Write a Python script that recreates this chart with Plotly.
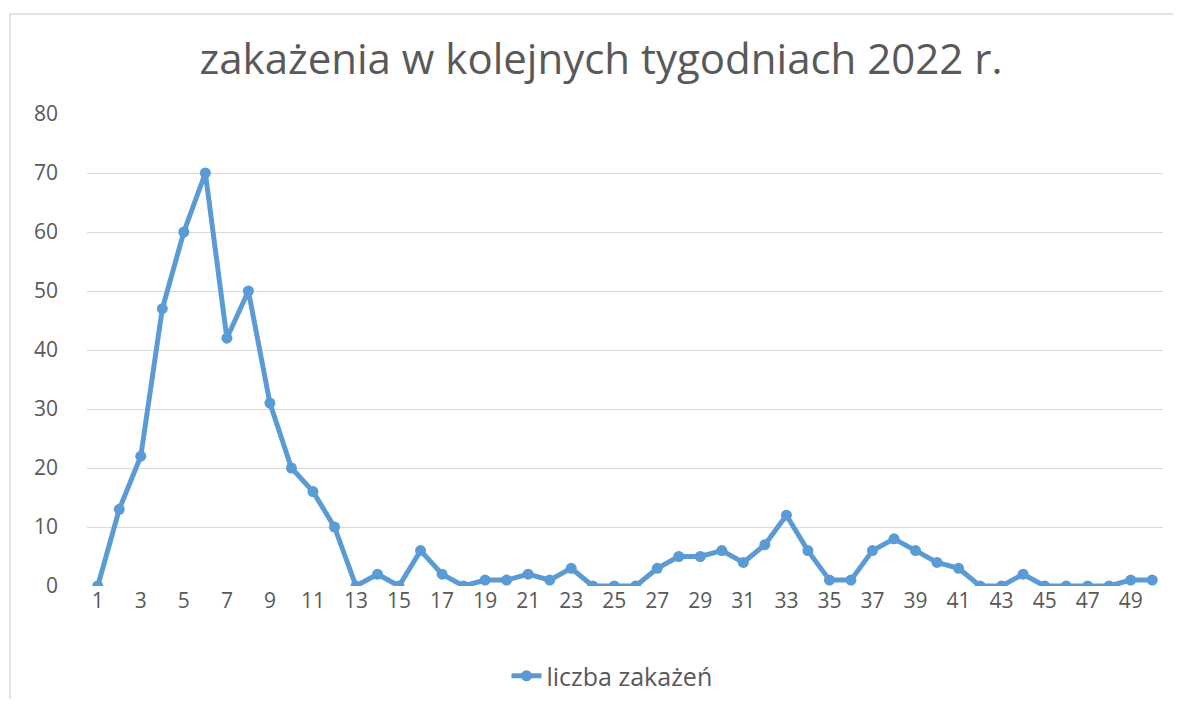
import plotly.graph_objects as go

weeks = list(range(1, 51))
infections = [0, 13, 22, 47, 60, 70, 42, 50, 31, 20,
              16, 10, 0, 2, 0, 6, 2, 0, 1, 1,
              2, 1, 3, 0, 0, 0, 3, 5, 5, 6,
              4, 7, 12, 6, 1, 1, 6, 8, 6, 4,
              3, 0, 0, 2, 0, 0, 0, 0, 1, 1]
x_ticks = list(range(1, 50, 2))
y_ticks = list(range(0, 81, 10))

title = "zakażenia w kolejnych tygodniach 2022 r."
series_name = "liczba zakażeń"

# page is 1181x707; the html body adds an 8px margin around the figure
OFF = 8
W, H = 1181 - 2 * OFF, 707 - 2 * OFF
# plot area in page pixels: x 87..1163, y 114..586
L, T = 87 - OFF, 114 - OFF
R, B = W - (1163 - OFF), H - (586 - OFF)
pw, ph = W - L - R, H - T - B


def px_x(p):  # page pixel -> paper x
    return (p - OFF - L) / pw


def px_y(p):  # page pixel -> paper y
    return (T + ph - (p - OFF)) / ph


fig = go.Figure()
fig.add_trace(go.Scatter(
    x=weeks, y=infections, mode="lines+markers", name=series_name,
    line=dict(color="#5B9BD5", width=5),
    marker=dict(color="#5B9BD5", size=11),
))

fig.update_layout(
    width=W, height=H,
    margin=dict(l=L, r=R, t=T, b=B, autoexpand=False),
    paper_bgcolor="white", plot_bgcolor="white",
    font=dict(family="Open Sans, Noto Sans, sans-serif", color="#595959"),
    title=dict(text=title, x=(601 - OFF) / W, xanchor="center",
               y=1 - (59 - OFF) / H, yanchor="middle",
               font=dict(size=42, color="#595959")),
    showlegend=True,
    legend=dict(orientation="h", xref="container", x=(612 - OFF) / W, xanchor="center",
                yref="container", y=1 - (676 - OFF) / H,
                yanchor="middle", font=dict(size=25, color="#595959")),
    xaxis=dict(range=[0.5, 50.5], tickmode="array", tickvals=x_ticks,
               ticktext=[str(v) for v in x_ticks], showgrid=False, zeroline=False,
               showline=False, ticks="", tickfont=dict(size=21, color="#595959")),
    yaxis=dict(range=[0, 80], tickmode="array", tickvals=y_ticks,
               showgrid=True, gridcolor="#D9D9D9", gridwidth=1.3, zeroline=False,
               showline=False, ticks="", ticklabelstandoff=28,
               tickfont=dict(size=21, color="#595959")),
    shapes=[dict(type="rect", xref="paper", yref="paper",
                 x0=px_x(10), x1=px_x(1200),
                 y0=px_y(730), y1=px_y(14),
                 line=dict(color="#D9D9D9", width=1.5), layer="below")],
)

fig.write_html("out.html")
